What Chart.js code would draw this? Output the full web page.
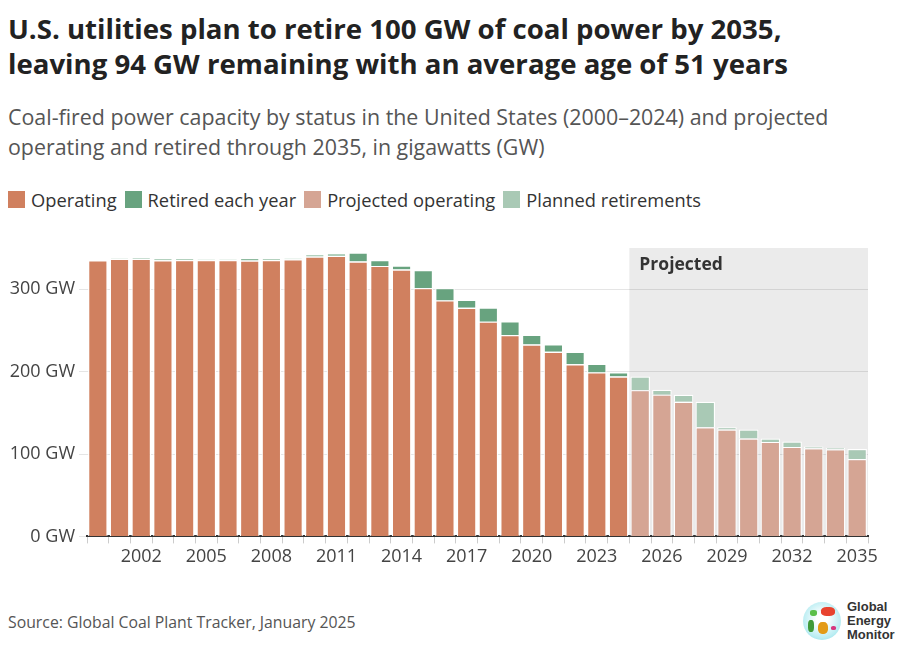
<!DOCTYPE html>
<html>
<head>
<meta charset="utf-8">
<script src="https://cdn.jsdelivr.net/npm/chart.js@4.4.1/dist/chart.umd.min.js"></script>
<style>
  html, body { margin: 0; padding: 0; background: #fff; }
  body { width: 900px; height: 652px; position: relative; overflow: hidden; font-family: "Open Sans", sans-serif; color: #222; }
  #title { position: absolute; left: 8px; top: 11px; font-size: 27.6px; font-weight: 700; line-height: 35px; color: #222; }
  #subtitle { position: absolute; left: 8px; top: 102px; font-size: 21.4px; line-height: 30px; color: #555; }
  #legend { position: absolute; left: 8px; top: 187px; display: flex; font-size: 18.3px; color: #333; }
  #legend .item { display: flex; align-items: center; margin-right: 8px; }
  #legend .sw { width: 17px; height: 17px; margin-right: 6px; }
  #wrap { position: absolute; left: 0; top: 225px; width: 900px; height: 355px; }
  #source { position: absolute; left: 8px; top: 611px; font-size: 15.8px; color: #555; }
  #logo { position: absolute; left: 803px; top: 600px; display: flex; align-items: center; }
  #globe { width: 38px; height: 38px; border-radius: 50%; position: relative; overflow: hidden;
           background: radial-gradient(circle at 50% 45%, #ffffff 20%, #bdeef3 65%, #7fd9e6 100%); }
  #globe span { position: absolute; border-radius: 40%; }
  #logotext { margin-left: 6px; font-family: "Liberation Sans", Arial, sans-serif; font-weight: 700; font-size: 13px; line-height: 14px; color: #333; }
</style>
</head>
<body>
<div id="title">U.S. utilities plan to retire 100 GW of coal power by 2035,<br>leaving 94 GW remaining with an average age of 51 years</div>
<div id="subtitle">Coal-fired power capacity by status in the United States (2000–2024) and projected<br>operating and retired through 2035, in gigawatts (GW)</div>
<div id="legend"></div>
<div id="wrap"><canvas id="chart"></canvas></div>
<div id="source">Source: Global Coal Plant Tracker, January 2025</div>
<div id="logo">
  <div id="globe">
    <span style="left:18px;top:5px;width:14px;height:9px;background:#e8432f"></span>
    <span style="left:7px;top:8px;width:7px;height:6px;background:#5bbf4a"></span>
    <span style="left:5px;top:18px;width:6px;height:12px;background:#3f9a3a"></span>
    <span style="left:15px;top:20px;width:10px;height:12px;background:#e39b17"></span>
    <span style="left:28px;top:24px;width:5px;height:4px;background:#d6387f"></span>
  </div>
  <div id="logotext">Global<br>Energy<br>Monitor</div>
</div>
<script>
const years = [];
for (let y = 2000; y <= 2035; y++) years.push(String(y));

// 2000-2024 actuals
const operating = [335, 337, 337, 335, 335.5, 335.5, 335.5, 334.7, 335.5, 336.4, 339.6, 340.5, 333.5,
  328.3, 323.8, 301.3, 286.4, 277.5, 260.6, 244.4, 232.8, 224, 209, 199, 194];
const retired = [0, 0.5, 1, 2, 1, 0.5, 0.5, 3, 1, 1, 2.5, 3, 11, 7, 5, 22, 15, 9.5, 17, 16.5, 12, 9, 15, 10.5, 5];

// 2025-2035 projections
const projectedOperating = [177.5, 172, 163.4, 132.4, 129.6, 118.7, 114.7, 108.6, 107, 105.8, 94];
const plannedRetirements = [16.5, 6, 8.5, 31, 3, 11, 4, 6.5, 2, 1.5, 12];

const yTicks = [0, 100, 200, 300];

const COLORS = {
  operating: '#d0805f',
  retired: '#68a37f',
  projOperating: '#d5a594',
  planned: '#a9c9b5'
};

const nActual = operating.length;
const pad = (arr, before, after) => Array(before).fill(null).concat(arr, Array(after).fill(null));

const legendItems = [
  ['Operating', COLORS.operating],
  ['Retired each year', COLORS.retired],
  ['Projected operating', COLORS.projOperating],
  ['Planned retirements', COLORS.planned]
];
document.getElementById('legend').innerHTML = legendItems.map(([l, c]) =>
  '<div class="item"><div class="sw" style="background:' + c + '"></div>' + l + '</div>').join('');

const projectedBg = {
  id: 'projectedBg',
  beforeDraw(chart) {
    const { ctx, chartArea, scales } = chart;
    const x0 = (scales.x.getPixelForValue(nActual - 1) + scales.x.getPixelForValue(nActual)) / 2;
    const yTop = scales.y.getPixelForValue(350);
    ctx.save();
    ctx.fillStyle = '#ebebeb';
    ctx.fillRect(x0, yTop, chartArea.right - x0, chartArea.bottom - yTop);
    ctx.fillStyle = '#333';
    ctx.font = 'bold 17.5px "Open Sans"';
    ctx.textBaseline = 'middle';
    ctx.fillText('Projected', x0 + 10, yTop + 17);
    ctx.restore();
  }
};

const barOpts = { borderColor: '#ffffff', borderWidth: 1.2, barPercentage: 0.9, categoryPercentage: 1 };

new Chart(document.getElementById('chart'), {
  type: 'bar',
  data: {
    labels: years,
    datasets: [
      Object.assign({ label: 'Operating', data: pad(operating, 0, years.length - nActual), backgroundColor: COLORS.operating }, barOpts),
      Object.assign({ label: 'Retired each year', data: pad(retired, 0, years.length - nActual), backgroundColor: COLORS.retired }, barOpts),
      Object.assign({ label: 'Projected operating', data: pad(projectedOperating, nActual, 0), backgroundColor: COLORS.projOperating }, barOpts),
      Object.assign({ label: 'Planned retirements', data: pad(plannedRetirements, nActual, 0), backgroundColor: COLORS.planned }, barOpts)
    ]
  },
  plugins: [projectedBg],
  options: {
    responsive: true,
    maintainAspectRatio: false,
    animation: false,
    layout: { padding: { top: 23, right: 32, bottom: 9, left: 0 } },
    plugins: { legend: { display: false }, tooltip: { enabled: false } },
    scales: {
      x: {
        stacked: true,
        grid: { drawOnChartArea: false, drawTicks: true, tickLength: 7, color: '#cccccc' },
        border: { display: true, color: '#333', width: 2 },
        ticks: {
          autoSkip: false, maxRotation: 0, padding: 3,
          color: '#444', font: { family: 'Open Sans', size: 18 },
          callback: function(val, i) { return (Number(years[i]) - 2002) % 3 === 0 ? years[i] : ''; }
        }
      },
      y: {
        stacked: true, min: 0, max: 350, z: 1,
        afterBuildTicks: s => { s.ticks = yTicks.map(v => ({ value: v })); },
        afterFit: s => { s.width = 87; },
        grid: { color: 'rgba(0,0,0,0.1)', tickLength: 8, drawTicks: true },
        border: { display: false },
        ticks: {
          padding: 4, color: '#444', font: { family: 'Open Sans', size: 18 },
          callback: v => v + ' GW'
        }
      }
    }
  }
});
</script>
</body>
</html>
